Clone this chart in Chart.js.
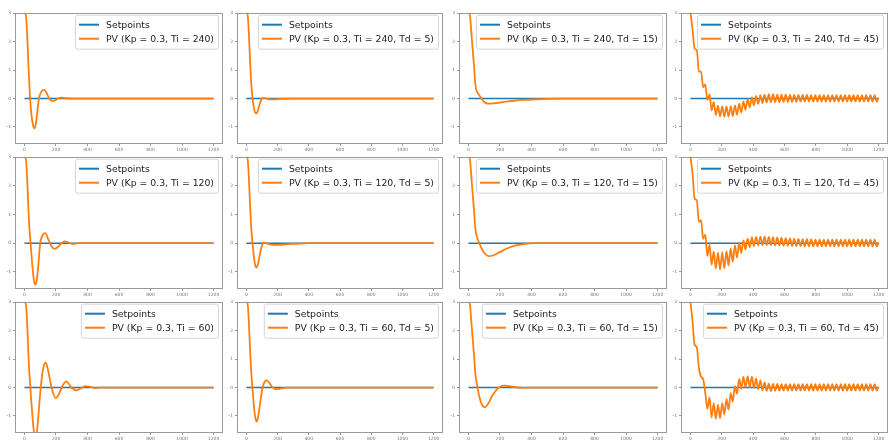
<!DOCTYPE html>
<html><head><meta charset="utf-8">
<script src="https://cdn.jsdelivr.net/npm/chart.js@4.4.1/dist/chart.umd.min.js"></script>
<style>
html,body{margin:0;padding:0;background:#fff;width:890px;height:445px;overflow:hidden;position:relative}
canvas{position:absolute;display:block}
</style>
</head><body>
<script>
// ---- tick labels ----
const xTicks = [0, 200, 400, 600, 800, 1000, 1200];
const yTicks = [-1, 0, 1, 2, 3];

// ---- series names ----
const setpointName = 'Setpoints';
const pvLabels = [
  'PV (Kp = 0.3, Ti = 240)', 'PV (Kp = 0.3, Ti = 240, Td = 5)', 'PV (Kp = 0.3, Ti = 240, Td = 15)', 'PV (Kp = 0.3, Ti = 240, Td = 45)',
  'PV (Kp = 0.3, Ti = 120)', 'PV (Kp = 0.3, Ti = 120, Td = 5)', 'PV (Kp = 0.3, Ti = 120, Td = 15)', 'PV (Kp = 0.3, Ti = 120, Td = 45)',
  'PV (Kp = 0.3, Ti = 60)',  'PV (Kp = 0.3, Ti = 60, Td = 5)',  'PV (Kp = 0.3, Ti = 60, Td = 15)',  'PV (Kp = 0.3, Ti = 60, Td = 45)'
];

// ---- setpoint series ----
const setpointTime = [0, 1200];
const setpointValue = [0, 0];

// ---- PV series ----
const timeTi240 = [0,5,10,15,20,25,30,36,45,55,64,72,80,92,105,124,140,160,181,200,215,234,260,300,1200];
const pvTi240   = [3.05,3.0,2.9,2.5,1.9,1.2,0.6,0.0,-0.6,-0.95,-1.05,-0.9,-0.55,0.0,0.22,0.31,0.2,-0.02,-0.09,-0.05,0.01,0.03,0.01,0,0];

const timeTi240Td5 = [0,5,10,15,20,25,30,36,43,50,57,64,72,80,90,100,115,130,150,180,220,300,1200];
const pvTi240Td5   = [3.05,3.0,2.85,2.4,1.8,1.2,0.65,0.2,-0.15,-0.38,-0.5,-0.52,-0.45,-0.3,-0.12,0.0,0.02,0.0,-0.03,-0.03,-0.01,0,0];

const timeTi240Td15 = [0,10,20,28,36,42,48,56,68,80,95,110,130,160,200,250,300,350,420,500,600,1200];
const pvTi240Td15   = [3.05,2.9,2.2,1.65,1.1,0.6,0.35,0.22,0.12,0.02,-0.1,-0.16,-0.18,-0.17,-0.14,-0.1,-0.07,-0.05,-0.03,-0.01,0,0];

const timeTd45 = [0,14,27,41,54,68,81,95,108,122,135,149,162,176,189,203,216,230,243,257,270,284,297,311,324,338,351,365,378,392,405,419,432,446,459,473,486,500,513,527,540,554,567,581,594,608,621,635,648,662,675,689,702,716,729,743,756,770,783,797,810,824,837,851,864,878,891,905,918,932,945,959,972,986,999,1013,1026,1040,1053,1067,1080,1094,1107,1121,1134,1148,1161,1175,1188,1200];
const pvTi240Td45 = [3.05,2.4,1.75,1.7,0.95,0.95,0.4,0.5,-0.05,0.15,
  -0.42,-0.12,-0.58,-0.25,-0.63,-0.28,-0.64,-0.28,-0.64,-0.27,
  -0.62,-0.24,-0.57,-0.18,-0.49,-0.1,-0.4,-0.02,-0.31,0.04,
  -0.24,0.09,-0.19,0.12,-0.16,0.14,-0.14,0.15,-0.13,0.15,
  -0.13,0.14,-0.13,0.14,-0.12,0.14,-0.12,0.13,-0.12,0.13,
  -0.12,0.13,-0.11,0.13,-0.11,0.13,-0.11,0.12,-0.11,0.12,
  -0.11,0.12,-0.11,0.12,-0.11,0.12,-0.11,0.12,-0.11,0.12,
  -0.11,0.12,-0.11,0.12,-0.11,0.12,-0.11,0.12,-0.11,0.12,
  -0.11,0.12,-0.11,0.12,-0.11,0.12,-0.11,0.12,-0.11,0.02];

const timeTi120 = [0,5,10,15,20,25,30,36,43,52,60,68,76,86,100,115,132,150,170,191,215,235,255,280,308,340,1200];
const pvTi120   = [3.05,3.0,2.9,2.5,1.9,1.2,0.65,0.2,-0.3,-0.9,-1.3,-1.45,-1.35,-0.9,0.0,0.28,0.35,0.15,-0.1,-0.2,-0.12,0.0,0.06,0.02,-0.03,0,0];

const timeTi120Td5 = [0,5,10,15,20,25,30,36,43,50,57,64,72,80,90,100,110,125,150,200,250,320,400,1200];
const pvTi120Td5   = [3.05,3.0,2.85,2.4,1.8,1.2,0.65,0.2,-0.2,-0.55,-0.78,-0.85,-0.78,-0.58,-0.3,-0.08,0.02,0.0,-0.04,-0.06,-0.04,-0.02,0,0];

const timeTi120Td15 = [0,10,20,28,36,42,48,56,68,80,95,110,130,155,185,220,260,300,350,420,500,1200];
const pvTi120Td15   = [3.05,2.9,2.2,1.65,1.1,0.6,0.35,0.18,0.02,-0.15,-0.3,-0.4,-0.45,-0.43,-0.35,-0.25,-0.15,-0.08,-0.03,0,0,0];

const pvTi120Td45 = [3.05,2.4,1.55,1.5,0.75,0.8,0.15,0.3,-0.45,-0.05,
  -0.75,-0.3,-0.88,-0.33,-0.92,-0.32,-0.88,-0.28,-0.78,-0.18,
  -0.65,-0.08,-0.5,0.02,-0.35,0.1,-0.22,0.16,-0.14,0.2,
  -0.1,0.22,-0.08,0.23,-0.07,0.23,-0.07,0.22,-0.07,0.21,
  -0.08,0.2,-0.08,0.19,-0.09,0.18,-0.09,0.17,-0.1,0.16,
  -0.1,0.15,-0.1,0.14,-0.11,0.14,-0.11,0.13,-0.11,0.12,
  -0.11,0.12,-0.11,0.12,-0.11,0.12,-0.11,0.12,-0.11,0.12,
  -0.11,0.12,-0.11,0.12,-0.11,0.12,-0.11,0.12,-0.11,0.12,
  -0.11,0.12,-0.11,0.12,-0.11,0.12,-0.11,0.12,-0.11,0.02];

const timeTi60 = [0,5,10,15,20,25,30,36,43,52,60,70,80,90,100,115,134,150,170,198,225,245,266,298,330,360,390,420,447,480,1200];
const pvTi60   = [3.05,3.0,2.9,2.5,1.9,1.2,0.6,0.15,-0.45,-1.1,-1.55,-1.75,-1.5,-0.9,-0.2,0.55,0.88,0.6,0.05,-0.37,-0.15,0.1,0.22,0.0,-0.1,-0.02,0.05,0.02,-0.02,0,0];

const timeTi60Td5 = [0,5,10,15,20,25,30,36,43,50,57,65,73,82,92,102,115,130,145,165,190,220,260,320,1200];
const pvTi60Td5   = [3.05,3.0,2.85,2.4,1.8,1.2,0.65,0.2,-0.3,-0.75,-1.05,-1.2,-1.1,-0.8,-0.4,-0.05,0.18,0.25,0.18,0.02,-0.06,-0.04,0,0,0];

const timeTi60Td15 = [0,10,20,28,36,42,48,56,66,78,90,102,115,130,150,175,200,225,260,300,350,420,1200];
const pvTi60Td15   = [3.05,2.9,2.2,1.65,1.1,0.6,0.3,0.05,-0.25,-0.5,-0.65,-0.7,-0.65,-0.52,-0.3,-0.1,0.03,0.07,0.05,0.01,-0.01,0,0];

const pvTi60Td45 = [3.05,2.3,1.5,1.42,0.7,0.38,0.3,-0.2,-0.75,-0.35,
  -1.05,-0.55,-1.1,-0.6,-1.08,-0.55,-0.95,-0.4,-0.78,-0.2,
  -0.5,0.05,-0.22,0.3,-0.05,0.38,0.0,0.4,0.02,0.38,
  -0.02,0.32,-0.06,0.25,-0.1,0.18,-0.12,0.14,-0.13,0.13,
  -0.12,0.13,-0.11,0.12,-0.11,0.12,-0.11,0.12,-0.11,0.12,
  -0.11,0.12,-0.11,0.12,-0.11,0.12,-0.11,0.12,-0.11,0.12,
  -0.11,0.12,-0.11,0.12,-0.11,0.12,-0.11,0.12,-0.11,0.12,
  -0.11,0.12,-0.11,0.12,-0.11,0.12,-0.11,0.12,-0.11,0.12,
  -0.11,0.12,-0.11,0.12,-0.11,0.12,-0.11,0.12,-0.11,0.02];

// ---- panels in row-major order ----
const panelSeries = [
  [timeTi240, pvTi240], [timeTi240Td5, pvTi240Td5], [timeTi240Td15, pvTi240Td15], [timeTd45, pvTi240Td45],
  [timeTi120, pvTi120], [timeTi120Td5, pvTi120Td5], [timeTi120Td15, pvTi120Td15], [timeTd45, pvTi120Td45],
  [timeTi60, pvTi60],   [timeTi60Td5, pvTi60Td5],   [timeTi60Td15, pvTi60Td15],   [timeTd45, pvTi60Td45]
];

// ---- layout ----
const colLeft = [15, 237, 459, 681];
const colRight = [223, 443, 667, 888];
const rowTop = [12, 156, 301];
const rowBottom = [144, 289, 433];
const AXW = 15, AXH = 12, PADT = 4, PADR = 4;

const BLUE = '#1f77b4', ORANGE = '#ff7f0e';

const framePlugin = {
  id: 'frame',
  afterDatasetsDraw(chart) {
    const a = chart.chartArea, ctx = chart.ctx;
    ctx.save();
    ctx.strokeStyle = '#9a9a9a';
    ctx.lineWidth = 1;
    ctx.strokeRect(Math.round(a.left) + 0.5, Math.round(a.top) + 0.5, Math.round(a.right - a.left) - 1, Math.round(a.bottom - a.top) - 1);
    ctx.restore();
  }
};

const legendPlugin = {
  id: 'innerLegend',
  afterDraw(chart) {
    const a = chart.chartArea, ctx = chart.ctx;
    const ds = chart.data.datasets;
    ctx.save();
    ctx.font = '9.3px "DejaVu Sans"';
    const tw = Math.max(...ds.map(d => ctx.measureText(d.label).width));
    const w = 31 + tw + 4, h = 34;
    const bx = a.right - 5 - w, by = a.top + 2;
    ctx.beginPath();
    ctx.roundRect(bx + 0.5, by + 0.5, w, h, 2);
    ctx.fillStyle = 'rgba(255,255,255,0.85)';
    ctx.fill();
    ctx.strokeStyle = '#d6d6d6';
    ctx.lineWidth = 1;
    ctx.stroke();
    ds.forEach((d, i) => {
      const y = by + 10 + i * 14;
      ctx.beginPath();
      ctx.moveTo(bx + 4, y);
      ctx.lineTo(bx + 24, y);
      ctx.strokeStyle = d.borderColor;
      ctx.lineWidth = 2;
      ctx.stroke();
      ctx.fillStyle = '#222';
      ctx.textBaseline = 'middle';
      ctx.fillText(d.label, bx + 31, y + 0.5);
    });
    ctx.restore();
  }
};

panelSeries.forEach((ser, idx) => {
  const r = Math.floor(idx / 4), c = idx % 4;
  const L = colLeft[c], R = colRight[c], T = rowTop[r], B = rowBottom[r];
  const cv = document.createElement('canvas');
  const cw = (R - L) + AXW + PADR, ch = (B - T) + PADT + AXH;
  cv.width = cw; cv.height = ch;
  cv.style.left = (L - AXW) + 'px';
  cv.style.top = (T - PADT) + 'px';
  cv.style.width = cw + 'px'; cv.style.height = ch + 'px';
  document.body.appendChild(cv);
  const toPts = (xs, ys) => xs.map((x, i) => ({ x: x, y: ys[i] }));
  new Chart(cv, {
    type: 'line',
    data: {
      datasets: [
        { label: setpointName, data: toPts(setpointTime, setpointValue), borderColor: BLUE, borderWidth: 1.6, pointRadius: 0, order: 1 },
        { label: pvLabels[idx], data: toPts(ser[0], ser[1]), borderColor: ORANGE, borderWidth: 1.8, pointRadius: 0, cubicInterpolationMode: 'monotone', order: 0 }
      ]
    },
    options: {
      responsive: false,
      animation: false,
      devicePixelRatio: 1,
      layout: { padding: { top: PADT, right: PADR, left: 0, bottom: 0 } },
      plugins: { legend: { display: false }, tooltip: { enabled: false } },
      scales: {
        x: {
          type: 'linear', min: -60, max: 1260,
          afterFit: s => { s.height = AXH; },
          afterBuildTicks: s => { s.ticks = xTicks.map(v => ({ value: v })); },
          ticks: { font: { size: 4.5, family: 'DejaVu Sans' }, color: '#777', padding: 1, maxRotation: 0, autoSkip: false, callback: v => String(v) },
          grid: { drawOnChartArea: false, tickLength: 2, color: '#999' },
          border: { display: false }
        },
        y: {
          type: 'linear', min: -1.6, max: 3.02,
          afterFit: s => { s.width = AXW; },
          afterBuildTicks: s => { s.ticks = yTicks.map(v => ({ value: v })); },
          ticks: { font: { size: 4.5, family: 'DejaVu Sans' }, color: '#777', padding: 2, autoSkip: false, callback: v => String(v) },
          grid: { drawOnChartArea: false, tickLength: 2, color: '#999' },
          border: { display: false }
        }
      }
    },
    plugins: [framePlugin, legendPlugin]
  });
});
</script>
</body></html>
